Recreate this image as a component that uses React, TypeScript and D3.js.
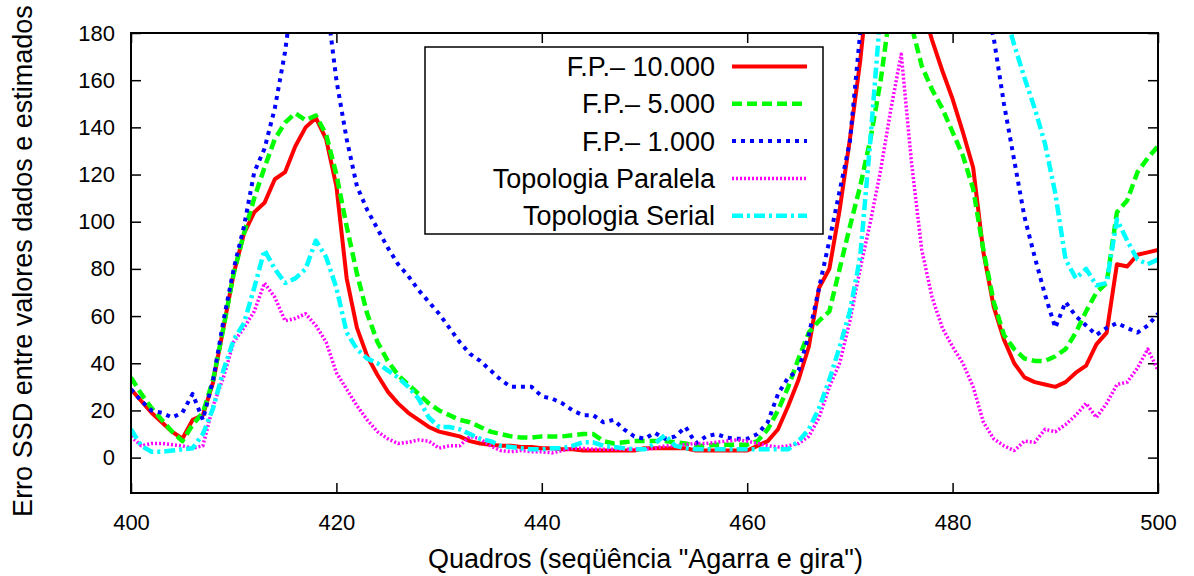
import React, { useEffect, useRef } from 'react';
import * as d3 from 'd3';

// frame index 400..500 (x positions)
const frames = d3.range(400, 501);

const xTicks = [400, 420, 440, 460, 480, 500];
const yTicks = [0, 20, 40, 60, 80, 100, 120, 140, 160, 180];

// values (values above 180 are clipped in the plot)
const fp10000 = [
  29, 24, 19, 15, 11, 8, 16, 18, 32, 55,
  78, 95, 104, 108, 118, 121, 132, 140, 144, 135,
  115, 76, 55, 43, 35, 28, 23, 19, 16, 13,
  11, 10, 9, 7, 6, 5.5, 5, 5, 4.5, 4.5,
  4, 4, 3.5, 3.5, 3, 3, 3, 3, 3, 3,
  4, 4, 4, 4, 4, 3, 3, 3, 3, 3,
  3, 5, 7, 12, 22, 33, 47, 72, 80, 105,
  135, 168, 210, 240, 255, 250, 225, 192, 177, 164,
  152, 138, 123, 87, 64, 50, 40, 34, 32, 31,
  30, 32, 36, 39, 48, 53, 82, 81, 86, 87,
  88,
];

const fp5000 = [
  34, 27, 21, 16, 11, 7, 14, 19, 33, 55,
  78, 95, 110, 123, 135, 142, 146, 143, 145, 137,
  120, 98, 78, 61, 49, 41, 35, 31, 27, 23,
  20, 18, 16, 15, 13, 11, 10, 9, 8.5, 8.5,
  9, 9, 9, 9.5, 10, 10, 7, 6, 6.5, 7,
  7, 7, 7, 6.5, 6, 5, 5, 5.5, 5.5, 5.5,
  5.5, 7, 12, 20, 30, 42, 53, 58, 62, 80,
  98, 115, 135, 160, 192, 198, 183, 166, 156, 148,
  138, 128, 114, 88, 66, 52, 46, 42, 41, 41,
  43, 46, 53, 62, 70, 74, 104, 109, 121, 127,
  132,
];

const fp1000 = [
  29, 24, 20, 19, 17, 19, 27, 16, 33, 58,
  80, 98, 121, 131, 148, 172, 205, 230, 230, 195,
  160, 135, 115, 105, 97, 89, 82, 77, 71, 66,
  61, 55, 49, 44, 41, 37, 33, 30, 30, 30,
  26, 25, 23, 20, 18, 18, 15, 16, 12, 9,
  8, 10.5, 8, 9, 13, 6, 9, 10, 8.5, 8,
  8, 10, 15, 27, 34, 37, 52, 72, 92, 113,
  134, 180, 230, 280, 300, 310, 310, 300, 290, 270,
  250, 230, 210, 195, 178, 150, 126, 102, 85, 69,
  55, 66, 60, 56, 52, 55, 57, 55, 53, 56,
  61,
];

const topoParalela = [
  9, 5, 6, 6, 5.5, 5, 4, 5, 22, 34,
  49, 55, 62, 74, 68, 58, 59, 61, 56, 49,
  36, 29, 22, 16, 11, 8, 6, 6.5, 7.5, 7,
  4, 5, 5, 9, 8, 5, 3, 2.5, 3, 2.5,
  2.5, 2, 3, 4, 4, 3.5, 3.5, 3.5, 3.5, 3.5,
  3.5, 4, 5, 5, 5.5, 6, 6, 6.5, 7, 7.5,
  7, 6, 5, 4.5, 5, 6, 9, 17, 30, 40,
  58, 80, 100, 122, 148, 171, 125, 88, 68, 55,
  47, 40, 30, 15, 8, 5, 3, 7, 6.5, 12,
  11, 14, 18, 23, 17, 23, 31, 32, 38, 46,
  37,
];

const topoSerial = [
  12, 5, 2.5, 2.5, 3, 3.5, 4, 10, 21, 37,
  50, 57, 72, 88, 80, 74, 76, 80, 92, 85,
  72, 53, 46, 42, 40, 37, 34, 30, 25, 17,
  13, 13, 12, 10, 8, 7, 5, 4.5, 4, 3.5,
  3.5, 4, 4, 5, 6.5, 6.5, 5, 4.5, 4, 3.5,
  3.5, 6, 9.5, 5, 4, 3.5, 3.5, 3.5, 3.5, 3.5,
  3.5, 3.5, 3.5, 3.5, 3.5, 7, 12, 21, 33, 47,
  62, 85, 135, 190, 220, 240, 250, 250, 245, 240,
  235, 230, 225, 215, 205, 190, 175, 161, 148, 133,
  112, 84, 76, 80, 73, 74, 101, 92, 84, 82,
  84,
];

const seriesLabels = ['F.P.– 10.000', 'F.P.– 5.000', 'F.P.– 1.000', 'Topologia Paralela', 'Topologia Serial'];
const seriesValues = [fp10000, fp5000, fp1000, topoParalela, topoSerial];

const styles = [
  { color: '#ff0000', width: 4, dash: null },
  { color: '#00ff00', width: 4.5, dash: '10 5' },
  { color: '#0000ff', width: 4, dash: '4 5' },
  { color: '#ff00ff', width: 3.5, dash: '2 2' },
  { color: '#00ffff', width: 4.5, dash: '11 4 3 4' },
];

const App = () => {
  const svgRef = useRef<SVGSVGElement>(null);

  useEffect(() => {
    const W = 1194;
    const H = 576;
    const margin = { top: 33, right: 36, bottom: 83, left: 131 };
    const width = W - margin.left - margin.right;
    const height = H - margin.top - margin.bottom;
    const font = 'Liberation Sans, Arial, Helvetica, sans-serif';

    d3.select(svgRef.current).selectAll('*').remove();

    const root = d3.select(svgRef.current)
      .attr('width', W)
      .attr('height', H);

    root.append('rect').attr('width', W).attr('height', H).attr('fill', 'white');

    const svg = root.append('g')
      .attr('transform', `translate(${margin.left},${margin.top})`);

    const x = d3.scaleLinear().domain([400, 500]).range([0, width]);
    const y = d3.scaleLinear().domain([-15, 180]).range([height, 0]);

    svg.append('clipPath').attr('id', 'plot-clip')
      .append('rect').attr('width', width).attr('height', height);

    // axes (gnuplot style: inward ticks, mirrored)
    const styleAxis = (g: any) => {
      g.select('.domain').remove();
      g.selectAll('.tick line').attr('stroke', 'black').attr('stroke-width', 1.5);
      g.selectAll('text')
        .attr('fill', 'black')
        .style('font-family', font)
        .style('font-size', '22px');
    };

    svg.append('g')
      .attr('transform', `translate(0,${height})`)
      .call(d3.axisBottom(x).tickValues(xTicks).tickSize(-10).tickPadding(21))
      .call(styleAxis);

    svg.append('g')
      .call(d3.axisTop(x).tickValues(xTicks).tickSize(-10).tickFormat(() => ''))
      .call(styleAxis);

    svg.append('g')
      .call(d3.axisLeft(y).tickValues(yTicks).tickSize(-10).tickPadding(16))
      .call(styleAxis);

    svg.append('g')
      .attr('transform', `translate(${width},0)`)
      .call(d3.axisRight(y).tickValues(yTicks).tickSize(-10).tickFormat(() => ''))
      .call(styleAxis);

    // lines
    const line = d3.line<number>()
      .x((_, i) => x(frames[i]))
      .y(d => y(d));

    const lines = svg.append('g').attr('clip-path', 'url(#plot-clip)');
    seriesValues.forEach((vals, i) => {
      const s = styles[i];
      lines.append('path')
        .datum(vals)
        .attr('fill', 'none')
        .attr('stroke', s.color)
        .attr('stroke-width', s.width)
        .attr('stroke-dasharray', s.dash)
        .attr('stroke-linejoin', 'round')
        .attr('d', line);
    });

    // frame
    svg.append('rect')
      .attr('width', width)
      .attr('height', height)
      .attr('fill', 'none')
      .attr('stroke', 'black')
      .attr('stroke-width', 2);

    // legend
    const legend = svg.append('g').attr('transform', `translate(${425 - margin.left},${47 - margin.top})`);
    legend.append('rect')
      .attr('width', 398)
      .attr('height', 187)
      .attr('fill', 'none')
      .attr('stroke', 'black')
      .attr('stroke-width', 1.5);

    seriesLabels.forEach((label, i) => {
      const s = styles[i];
      const cy = 19.5 + i * 37.3;
      legend.append('text')
        .attr('x', 290)
        .attr('y', cy)
        .attr('dy', '0.35em')
        .attr('text-anchor', 'end')
        .style('font-family', font)
        .style('font-size', '27px')
        .text(label);
      legend.append('line')
        .attr('x1', 307)
        .attr('x2', 382)
        .attr('y1', cy)
        .attr('y2', cy)
        .attr('stroke', s.color)
        .attr('stroke-width', s.width)
        .attr('stroke-dasharray', s.dash);
    });

    // axis labels
    root.append('text')
      .attr('x', margin.left + width / 2 + 1)
      .attr('y', 559)
      .attr('dy', '0.35em')
      .attr('text-anchor', 'middle')
      .style('font-family', font)
      .style('font-size', '27px')
      .text('Quadros (seqüência "Agarra e gira")');

    root.append('text')
      .attr('transform', `translate(23,${261}) rotate(-90)`)
      .attr('dy', '0.35em')
      .attr('text-anchor', 'middle')
      .style('font-family', font)
      .style('font-size', '27px')
      .text('Erro SSD entre valores dados e estimados');
  }, []);

  return (
    <svg ref={svgRef} style={{ position: 'absolute', left: 0, top: 0, display: 'block' }}></svg>
  );
};

export default App;
